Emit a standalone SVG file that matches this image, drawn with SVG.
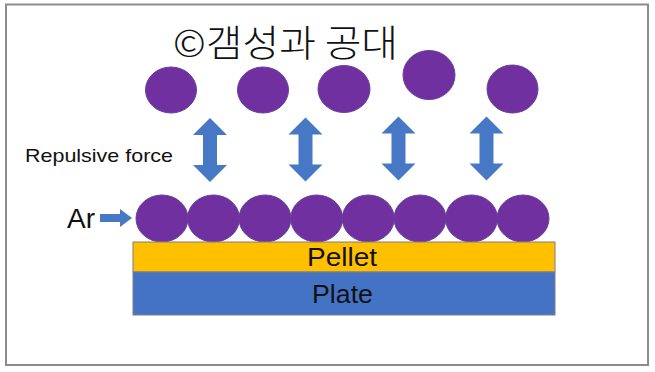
<svg xmlns="http://www.w3.org/2000/svg" width="655" height="372" viewBox="0 0 655 372">
<defs>
<style>
.frame{fill:#ffffff;stroke:#8c8c8c;stroke-width:2}
.atom{fill:#7030a0;stroke:#66409a;stroke-width:1}
.arr{fill:#4678c6}
.lbl{font-family:"Liberation Sans","Noto Sans",sans-serif;fill:#111111}
.title{font-family:"Noto Sans CJK KR","Noto Sans",sans-serif;fill:#111111;font-weight:300}
.layer{stroke:#7f7f7f;stroke-width:1}
</style>
<path id="dbl" d="M0,-32 L17,-15 L7,-15 L7,15 L17,15 L0,32 L-17,15 L-7,15 L-7,-15 L-17,-15 Z"/>
</defs>
<rect class="frame" x="6" y="4.5" width="642" height="360.5"/>
<g id="title"><text class="title" x="173" y="57" font-size="37" textLength="225" lengthAdjust="spacingAndGlyphs">©갬성과 공대</text></g>
<g id="top-atoms">
<ellipse class="atom" cx="171" cy="90" rx="25.5" ry="23"/>
<ellipse class="atom" cx="263" cy="90" rx="25.5" ry="23"/>
<ellipse class="atom" cx="344" cy="89" rx="26" ry="23.5"/>
<ellipse class="atom" cx="429" cy="75" rx="26" ry="24.5"/>
<ellipse class="atom" cx="512.5" cy="89" rx="25.5" ry="24"/>
</g>
<g id="repulsive-label"><text class="lbl" x="25" y="162" font-size="19" textLength="148" lengthAdjust="spacingAndGlyphs">Repulsive force</text></g>
<g id="connectors">
<use href="#dbl" class="arr" transform="translate(210,150)"/>
<use href="#dbl" class="arr" transform="translate(305.5,149.5)"/>
<use href="#dbl" class="arr" transform="translate(398.5,148.5)"/>
<use href="#dbl" class="arr" transform="translate(486.5,148.5)"/>
<path class="arr" d="M100,214 L120,214 L120,209 L132,218 L120,227 L120,222 L100,222 Z"/>
</g>
<g id="ar-label"><text class="lbl" x="67" y="228" font-size="28">Ar</text></g>
<g id="bottom-atoms">
<ellipse class="atom" cx="162" cy="218.5" rx="26" ry="23.5"/>
<ellipse class="atom" cx="213.5" cy="218.5" rx="26" ry="23.5"/>
<ellipse class="atom" cx="265" cy="218.5" rx="26" ry="23.5"/>
<ellipse class="atom" cx="316.7" cy="218.5" rx="26" ry="23.5"/>
<ellipse class="atom" cx="368.3" cy="218.5" rx="26" ry="23.5"/>
<ellipse class="atom" cx="420" cy="218.5" rx="26" ry="23.5"/>
<ellipse class="atom" cx="471.5" cy="218.5" rx="26" ry="23.5"/>
<ellipse class="atom" cx="523" cy="218.5" rx="26" ry="23.5"/>
</g>
<g id="pellet">
<rect class="layer" x="133" y="242" width="422" height="30" fill="#ffc000"/>
<text class="lbl" x="307" y="266" font-size="26" textLength="70" lengthAdjust="spacingAndGlyphs">Pellet</text>
</g>
<g id="plate">
<rect class="layer" x="133" y="272" width="422" height="43" fill="#4472c4"/>
<text class="lbl" x="312" y="303" font-size="26" textLength="61" lengthAdjust="spacingAndGlyphs">Plate</text>
</g>
</svg>
